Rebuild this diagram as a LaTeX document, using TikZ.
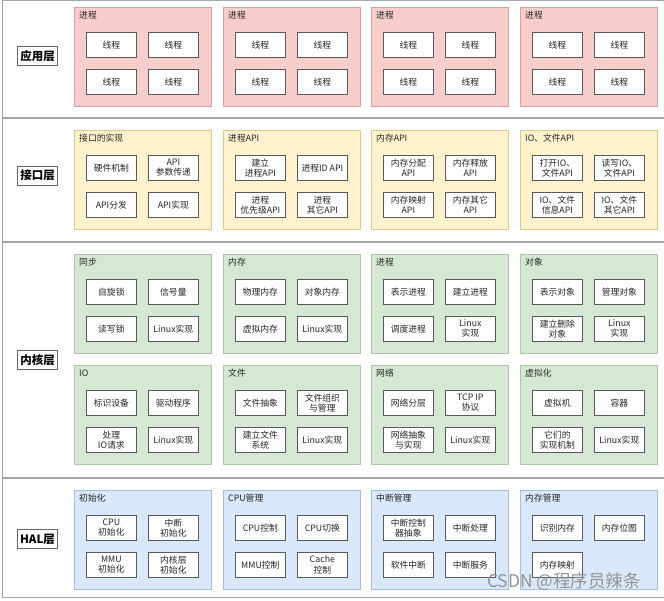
\documentclass[tikz,border=0pt]{standalone}
\usepackage{fontspec}
\setmainfont{Noto Sans CJK SC}
\begin{document}
\begin{tikzpicture}[x=1pt,y=-1pt,
  layerbox/.style={draw=black!35,line width=1.1pt,fill=white,anchor=north west,minimum width=680pt,inner sep=0pt},
  layertag/.style={draw=black!60,line width=0.7pt,fill=white,font=\fontsize{11.5}{13}\selectfont\bfseries,inner sep=2.5pt,minimum height=19pt},
  grpbox/.style={anchor=north west,minimum width=137pt,minimum height=99pt,inner sep=0pt,line width=0.7pt},
  redg/.style={grpbox,fill={rgb,255:red,248;green,206;blue,204},draw={rgb,255:red,222;green,160;blue,158}},
  yelg/.style={grpbox,fill={rgb,255:red,255;green,242;blue,204},draw={rgb,255:red,226;green,200;blue,138}},
  greg/.style={grpbox,fill={rgb,255:red,213;green,232;blue,212},draw={rgb,255:red,170;green,203;blue,160}},
  blug/.style={grpbox,fill={rgb,255:red,218;green,232;blue,252},draw={rgb,255:red,163;green,190;blue,224}},
  grptitle/.style={anchor=west,font=\fontsize{8.8}{10}\selectfont,inner sep=0pt,text=black!85},
  cell/.style={anchor=north west,draw=black!65,line width=0.7pt,fill=white,minimum width=50pt,minimum height=25pt,inner sep=0.5pt,align=center,font=\fontsize{8.8}{10.2}\selectfont,text=black!85}
]
\useasboundingbox (0,0) rectangle (664,601);

% layers
\node[layerbox,minimum height=117pt] (L1) at (2,0) {};
\node[layerbox,minimum height=123pt] (L2) at (2,118) {};
\node[layerbox,minimum height=235pt] (L3) at (2,242) {};
\node[layerbox,minimum height=119pt] (L4) at (2,478) {};

\node[layertag] (T1) at (37.5,56) {应用层};
\node[layertag] (T2) at (37.5,175.5) {接口层};
\node[layertag] (T3) at (37.5,360) {内核层};
\node[layertag] (T4) at (37.5,539) {HAL层};

\newcommand\grp[9]{%
  \node[#4] (#1) at (#2,#3) {};
  \node[grptitle] (#1t) at ([xshift=5pt,yshift=-8pt]#1.north west) {#5};
  \node[cell] (#1a) at (#2+12,#3+25) {#6};
  \node[cell] (#1b) at (#2+74,#3+25) {#7};
  \node[cell] (#1c) at (#2+12,#3+62) {#8};
  \if\relax\detokenize{#9}\relax\else
  \node[cell] (#1d) at (#2+74,#3+62) {#9};\fi
}

% application layer
\grp{a1}{74}{7}{redg}{进程}{线程}{线程}{线程}{线程}
\grp{a2}{223}{7}{redg}{进程}{线程}{线程}{线程}{线程}
\grp{a3}{371}{7}{redg}{进程}{线程}{线程}{线程}{线程}
\grp{a4}{520}{7}{redg}{进程}{线程}{线程}{线程}{线程}

% interface layer
\grp{b1}{74}{130}{yelg}{接口的实现}{硬件机制}{API\\参数传递}{API分发}{API实现}
\grp{b2}{223}{130}{yelg}{进程API}{建立\\进程API}{进程ID API}{进程\\优先级API}{进程\\其它API}
\grp{b3}{371}{130}{yelg}{内存API}{内存分配\\API}{内存释放\\API}{内存映射\\API}{内存其它\\API}
\grp{b4}{520}{130}{yelg}{IO、文件API}{打开IO、\\文件API}{读写IO、\\文件API}{IO、文件\\信息API}{IO、文件\\其它API}

% kernel layer
\grp{c1}{74}{254}{greg}{同步}{自旋锁}{信号量}{读写锁}{Linux实现}
\grp{c2}{223}{254}{greg}{内存}{物理内存}{对象内存}{虚拟内存}{Linux实现}
\grp{c3}{371}{254}{greg}{进程}{表示进程}{建立进程}{调度进程}{Linux\\实现}
\grp{c4}{520}{254}{greg}{对象}{表示对象}{管理对象}{建立删除\\对象}{Linux\\实现}
\grp{d1}{74}{365}{greg}{IO}{标识设备}{驱动程序}{处理\\IO请求}{Linux实现}
\grp{d2}{223}{365}{greg}{文件}{文件抽象}{文件组织\\与管理}{建立文件\\系统}{Linux实现}
\grp{d3}{371}{365}{greg}{网络}{网络分层}{TCP IP\\协议}{网络抽象\\与实现}{Linux实现}
\grp{d4}{520}{365}{greg}{虚拟化}{虚拟机}{容器}{它们的\\实现机制}{Linux实现}

% HAL layer
\grp{e1}{74}{490}{blug}{初始化}{CPU\\初始化}{中断\\初始化}{MMU\\初始化}{内核层\\初始化}
\grp{e2}{223}{490}{blug}{CPU管理}{CPU控制}{CPU切换}{MMU控制}{Cache\\控制}
\grp{e3}{371}{490}{blug}{中断管理}{中断控制\\器抽象}{中断处理}{软件中断}{中断服务}
\grp{e4}{520}{490}{blug}{内存管理}{识别内存}{内存位图}{内存映射}{}

\node[font=\fontsize{17.5}{19}\selectfont,text=black!42] (wm) at (564,582) {CSDN @程序员辣条};
\end{tikzpicture}
\end{document}
